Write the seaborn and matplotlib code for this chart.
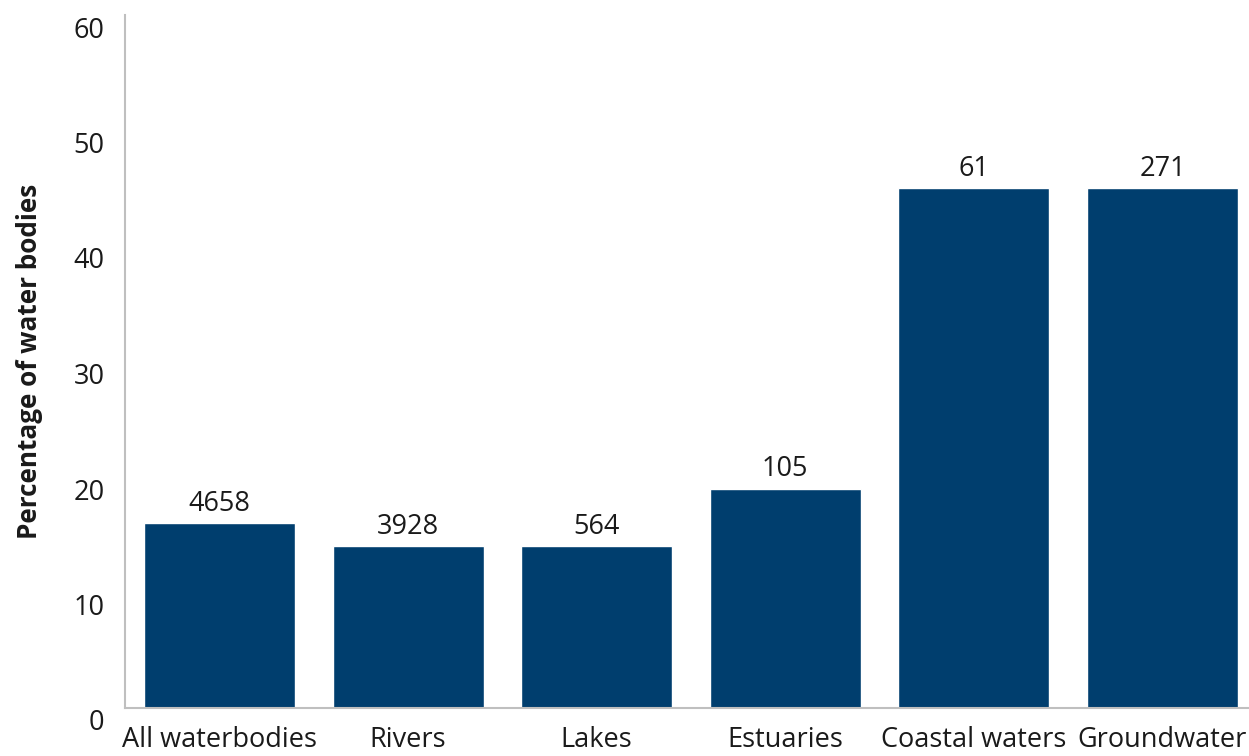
import matplotlib
matplotlib.use("Agg")
import matplotlib.pyplot as plt
import matplotlib.transforms as mtransforms
import seaborn as sns
import pandas as pd

categories = ["All waterbodies", "Rivers", "Lakes", "Estuaries", "Coastal waters", "Groundwater"]
percentages = [16, 14, 14, 19, 45, 45]
counts = [4658, 3928, 564, 105, 61, 271]
y_ticks = [0, 10, 20, 30, 40, 50, 60]

sns.set_theme(style="white")
plt.rcParams["font.family"] = ["Open Sans", "DejaVu Sans"]

df = pd.DataFrame({"category": categories, "pct": percentages})

fig = plt.figure(figsize=(12.49, 7.56), dpi=100)
ax = fig.add_axes([125.2 / 1249, 48 / 756, (1256.8 - 125.2) / 1249, 693 / 756])

sns.barplot(data=df, x="category", y="pct", color="#003E6E", saturation=1,
            width=0.8, ax=ax)

ax.bar_label(ax.containers[0], labels=[str(c) for c in counts],
             padding=4, fontsize=19.5, color="#1a1a1a")

ax.set_xlim(-0.5, 5.5)
ax.set_ylim(0, 60)
ax.set_yticks(y_ticks)
ax.set_yticklabels([str(t) for t in y_ticks])
ax.set_xlabel("")
ax.set_ylabel("Percentage of water bodies", fontsize=18.8, fontweight="bold",
              labelpad=22, color="#1a1a1a")

ax.tick_params(axis="both", length=0, labelsize=19.5, colors="#1a1a1a")
ax.tick_params(axis="y", pad=15)
ax.tick_params(axis="x", pad=13)

# y tick labels sit slightly below their gridline positions
shift = mtransforms.ScaledTranslation(0, -12 / 100, fig.dpi_scale_trans)
for lbl in ax.get_yticklabels():
    lbl.set_transform(lbl.get_transform() + shift)

for side in ["top", "right"]:
    ax.spines[side].set_visible(False)
for side in ["left", "bottom"]:
    ax.spines[side].set_color("#BFBFBF")
    ax.spines[side].set_linewidth(1.5)

fig.savefig("out.png", dpi=100)
